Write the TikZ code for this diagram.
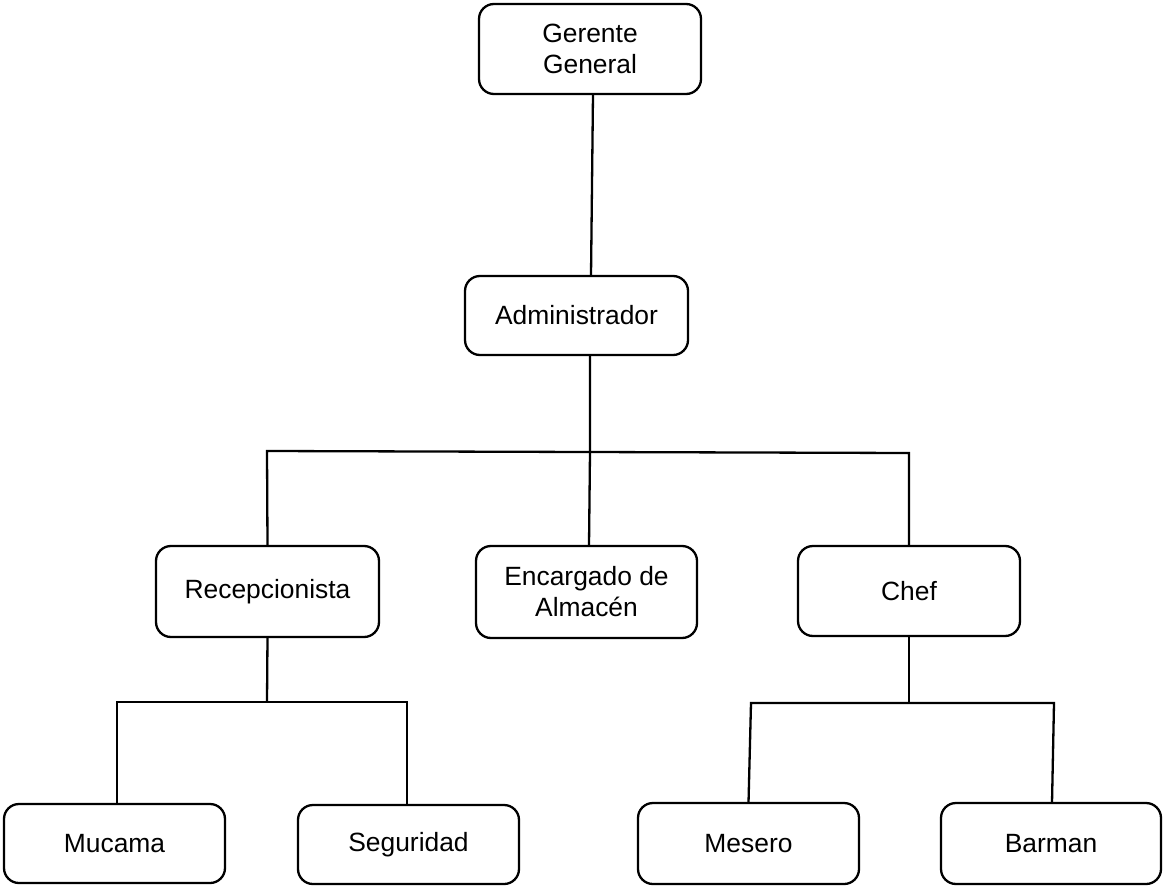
\documentclass[tikz,border=0pt]{standalone}
\usepackage{fontspec}
\setmainfont{Liberation Sans}
\begin{document}
\begin{tikzpicture}[x=1pt,y=-1pt,
  box/.style={draw=black, line width=2.3pt, rounded corners=15pt, fill=white,
    inner sep=0pt, outer sep=0pt, align=center,
    font=\fontsize{26.4}{31}\selectfont},
  conn/.style={draw=black, line width=2.3pt}]
\useasboundingbox (0,0) rectangle (1165,888);
% boxes
\node[box, minimum width=222pt, minimum height=90pt] (ger) at (590,49) {Gerente\\General};
\node[box, minimum width=223pt, minimum height=79pt] (adm) at (576.5,315.5) {Administrador};
\node[box, minimum width=223pt, minimum height=91pt] (rec) at (267.5,591.5) {Recepcionista};
\node[box, minimum width=221pt, minimum height=92pt] (enc) at (586.5,592) {Encargado de\\Almacén};
\node[box, minimum width=222pt, minimum height=90pt] (chef) at (909,591) {Chef};
\node[box, minimum width=221pt, minimum height=79pt] (muc) at (114.5,843.5) {Mucama};
\node[box, minimum width=221pt, minimum height=79pt] (seg) at (408.5,844.5) {Seguridad};
\node[box, minimum width=221pt, minimum height=81pt] (mes) at (748.5,843.5) {Mesero};
\node[box, minimum width=220pt, minimum height=81pt] (bar) at (1051,843.5) {Barman};
% junction coordinates
\coordinate (hl) at (267,451);
\coordinate (hr) at (909,453);
\coordinate (hm) at (590,452);
\coordinate (rj) at (267,702);
\coordinate (rl) at (117,702);
\coordinate (rr) at (407,702);
\coordinate (cj) at (909,703);
\coordinate (cl) at (751,703);
\coordinate (cr) at (1054,703);
% connectors
\draw[conn] ([xshift=3pt]ger.south) -- ([xshift=14.5pt]adm.north);
\draw[conn] ([xshift=13.5pt]adm.south) -- (hm) -- ([xshift=2.5pt]enc.north);
\draw[conn] (rec.north) -- (hl) -- (hr) -- (chef.north);
\draw[conn] (rec.south) -- (rj);
\draw[conn] ([xshift=2.5pt]muc.north) -- (rl) -- (rr) -- ([xshift=-1.5pt]seg.north);
\draw[conn] (chef.south) -- (cj);
\draw[conn] (mes.north) -- (cl) -- (cr) -- ([xshift=1pt]bar.north);
\end{tikzpicture}
\end{document}
